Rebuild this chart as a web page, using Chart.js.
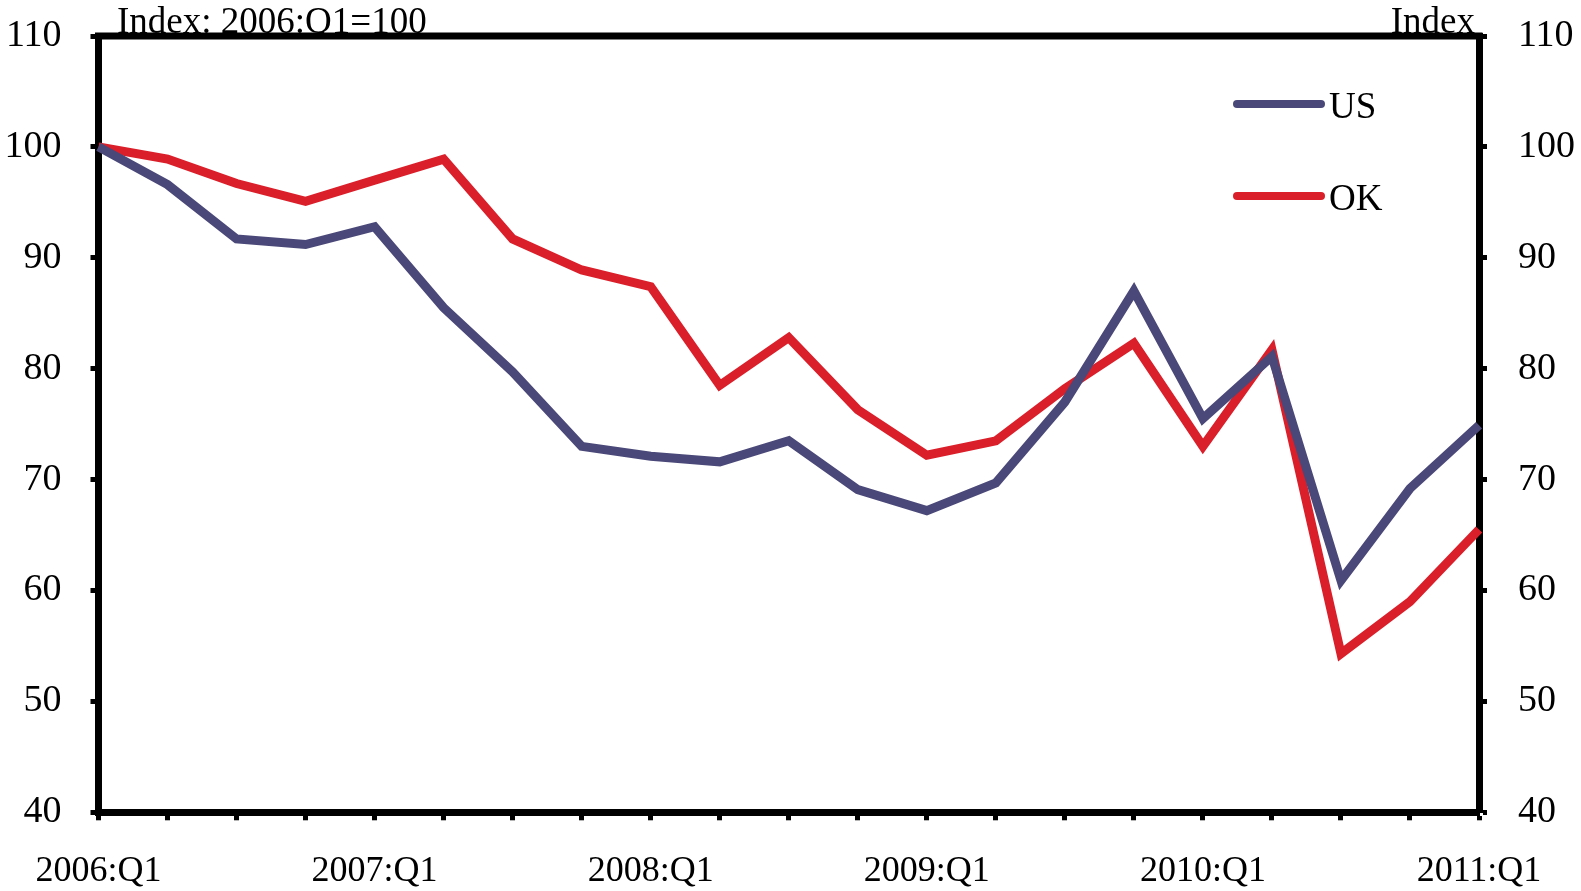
<!DOCTYPE html>
<html>
<head>
<meta charset="utf-8">
<script src="https://cdn.jsdelivr.net/npm/chart.js@4/dist/chart.umd.min.js"></script>
<style>
  html, body { margin: 0; padding: 0; background: #fff; }
  canvas { display: block; }
</style>
</head>
<body>
<canvas id="chart" width="1581" height="891"></canvas>
<script>
// quarterly index, 2006:Q1 = 100
const quarters = [
  "2006:Q1", "2006:Q2", "2006:Q3", "2006:Q4",
  "2007:Q1", "2007:Q2", "2007:Q3", "2007:Q4",
  "2008:Q1", "2008:Q2", "2008:Q3", "2008:Q4",
  "2009:Q1", "2009:Q2", "2009:Q3", "2009:Q4",
  "2010:Q1", "2010:Q2", "2010:Q3", "2010:Q4",
  "2011:Q1"
];
const usValues = [100, 96.6, 91.7, 91.2, 92.8, 85.5, 79.7, 73.0, 72.1, 71.6, 73.5,
  69.1, 67.2, 69.7, 77.0, 87.0, 75.5, 81.1, 60.9, 69.2, 74.9];
const okValues = [100, 98.9, 96.7, 95.1, 97.0, 98.9, 91.7, 88.9, 87.4, 78.5, 82.8,
  76.3, 72.2, 73.5, 78.2, 82.3, 73.0, 81.7, 54.3, 59.0, 65.5];
const yTicks = [40, 50, 60, 70, 80, 90, 100, 110];

const FONT = "'Liberation Serif', 'Times New Roman', serif";
const BLUE = "#4a4878";
const RED = "#da1f2a";

// top frame line, corner captions and the legend
const extras = {
  id: "extras",
  afterDraw(chart) {
    const { ctx, chartArea } = chart;
    ctx.save();
    ctx.strokeStyle = "#000";
    ctx.lineWidth = 7;
    ctx.beginPath();
    ctx.moveTo(chartArea.left - 3.5, chartArea.top);
    ctx.lineTo(chartArea.right + 3.5, chartArea.top);
    ctx.stroke();

    ctx.fillStyle = "#000";
    ctx.font = "37px " + FONT;
    ctx.textBaseline = "alphabetic";
    ctx.textAlign = "left";
    ctx.fillText("Index: 2006:Q1=100", 117, 33);
    ctx.textAlign = "right";
    ctx.fillText("Index", 1475, 33);

    // legend
    chart.data.datasets.forEach((ds, i) => {
      const y = 104 + i * 92;
      ctx.strokeStyle = ds.borderColor;
      ctx.lineWidth = 8;
      ctx.lineCap = "round";
      ctx.beginPath();
      ctx.moveTo(1237, y);
      ctx.lineTo(1321, y);
      ctx.stroke();
      ctx.fillStyle = "#000";
      ctx.textAlign = "left";
      ctx.fillText(ds.label, 1329, y + 14);
    });
    ctx.restore();
  }
};

const axisGrid = {
  drawOnChartArea: false,
  drawTicks: true,
  tickLength: 8,
  tickWidth: 5,
  tickColor: "#000"
};

new Chart(document.getElementById("chart"), {
  type: "line",
  data: {
    labels: quarters,
    datasets: [
      {
        label: "US",
        data: usValues,
        borderColor: BLUE,
        backgroundColor: BLUE,
        borderWidth: 9,
        pointRadius: 0,
        tension: 0,
        borderJoinStyle: "miter",
        yAxisID: "y"
      },
      {
        label: "OK",
        data: okValues,
        borderColor: RED,
        backgroundColor: RED,
        borderWidth: 9,
        pointRadius: 0,
        tension: 0,
        borderJoinStyle: "miter",
        yAxisID: "y"
      }
    ]
  },
  options: {
    responsive: false,
    animation: false,
    layout: { padding: { top: 36, left: 0, right: 0, bottom: 0 } },
    plugins: {
      legend: { display: false },
      tooltip: { enabled: false }
    },
    scales: {
      x: {
        grid: axisGrid,
        border: { display: true, width: 7, color: "#000" },
        ticks: {
          autoSkip: false,
          maxRotation: 0,
          padding: 30,
          color: "#000",
          font: { family: FONT, size: 36 },
          callback: function (val) {
            const lab = this.getLabelForValue(val);
            return lab.endsWith("Q1") ? lab : "";
          }
        },
        afterFit: (s) => { s.height = 78.7; }
      },
      y: {
        position: "left",
        min: 40,
        max: 110,
        afterBuildTicks: (s) => { s.ticks = yTicks.map((v) => ({ value: v })); },
        grid: axisGrid,
        border: { display: true, width: 7, color: "#000" },
        ticks: { padding: 29, color: "#000", font: { family: FONT, size: 38, lineHeight: 0.2 } },
        afterFit: (s) => { s.width = 98.5; }
      },
      y2: {
        position: "right",
        min: 40,
        max: 110,
        afterBuildTicks: (s) => { s.ticks = yTicks.map((v) => ({ value: v })); },
        grid: axisGrid,
        border: { display: true, width: 7, color: "#000" },
        ticks: { padding: 31, color: "#000", font: { family: FONT, size: 38, lineHeight: 0.2 } },
        afterFit: (s) => { s.width = 102; }
      }
    }
  },
  plugins: [extras]
});
</script>
</body>
</html>
